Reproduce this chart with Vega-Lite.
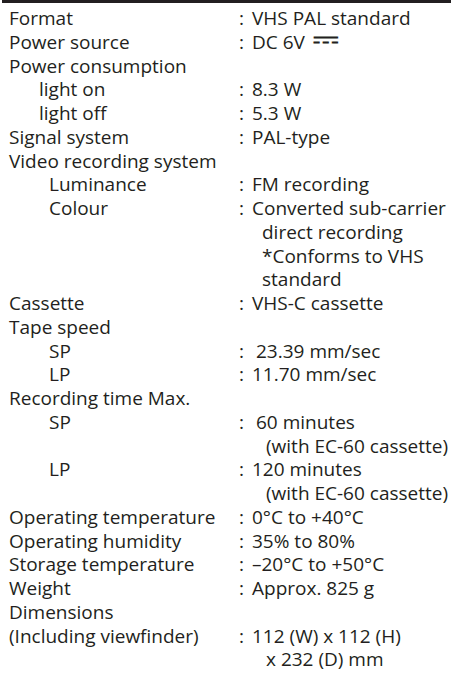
{
  "$schema": "https://vega.github.io/schema/vega-lite/v6.json",
  "width": 453,
  "height": 674,
  "padding": 0,
  "autosize": {"type": "fit", "contains": "padding"},
  "background": "white",
  "config": {"view": {"stroke": null}},
  "data": {"values": [
    {"line": 0, "col": 0, "kind": "t", "text": "Format"}, {"line": 0, "col": 3, "kind": "t", "text": ":"}, {"line": 0, "col": 4, "kind": "t", "text": "VHS PAL standard"},
    {"line": 1, "col": 0, "kind": "t", "text": "Power source"}, {"line": 1, "col": 3, "kind": "t", "text": ":"}, {"line": 1, "col": 4, "kind": "t", "text": "DC 6V"}, {"line": 1, "col": 8, "kind": "sym", "text": "⎓"},
    {"line": 2, "col": 0, "kind": "t", "text": "Power consumption"},
    {"line": 3, "col": 1, "kind": "t", "text": "light on"}, {"line": 3, "col": 3, "kind": "t", "text": ":"}, {"line": 3, "col": 4, "kind": "t", "text": "8.3 W"},
    {"line": 4, "col": 1, "kind": "t", "text": "light off"}, {"line": 4, "col": 3, "kind": "t", "text": ":"}, {"line": 4, "col": 4, "kind": "t", "text": "5.3 W"},
    {"line": 5, "col": 0, "kind": "t", "text": "Signal system"}, {"line": 5, "col": 3, "kind": "t", "text": ":"}, {"line": 5, "col": 4, "kind": "t", "text": "PAL-type"},
    {"line": 6, "col": 0, "kind": "t", "text": "Video recording system"},
    {"line": 7, "col": 2, "kind": "t", "text": "Luminance"}, {"line": 7, "col": 3, "kind": "t", "text": ":"}, {"line": 7, "col": 4, "kind": "t", "text": "FM recording"},
    {"line": 8, "col": 2, "kind": "t", "text": "Colour"}, {"line": 8, "col": 3, "kind": "t", "text": ":"}, {"line": 8, "col": 4, "kind": "t", "text": "Converted sub-carrier"},
    {"line": 9, "col": 6, "kind": "t", "text": "direct recording"},
    {"line": 10, "col": 6, "kind": "t", "text": "*Conforms to VHS"},
    {"line": 11, "col": 6, "kind": "t", "text": "standard"},
    {"line": 12, "col": 0, "kind": "t", "text": "Cassette"}, {"line": 12, "col": 3, "kind": "t", "text": ":"}, {"line": 12, "col": 4, "kind": "t", "text": "VHS-C cassette"},
    {"line": 13, "col": 0, "kind": "t", "text": "Tape speed"},
    {"line": 14, "col": 2, "kind": "t", "text": "SP"}, {"line": 14, "col": 3, "kind": "t", "text": ":"}, {"line": 14, "col": 5, "kind": "t", "text": "23.39 mm/sec"},
    {"line": 15, "col": 2, "kind": "t", "text": "LP"}, {"line": 15, "col": 3, "kind": "t", "text": ":"}, {"line": 15, "col": 4, "kind": "t", "text": "11.70 mm/sec"},
    {"line": 16, "col": 0, "kind": "t", "text": "Recording time Max."},
    {"line": 17, "col": 2, "kind": "t", "text": "SP"}, {"line": 17, "col": 3, "kind": "t", "text": ":"}, {"line": 17, "col": 5, "kind": "t", "text": "60 minutes"},
    {"line": 18, "col": 7, "kind": "t", "text": "(with EC-60 cassette)"},
    {"line": 19, "col": 2, "kind": "t", "text": "LP"}, {"line": 19, "col": 3, "kind": "t", "text": ":"}, {"line": 19, "col": 4, "kind": "t", "text": "120 minutes"},
    {"line": 20, "col": 7, "kind": "t", "text": "(with EC-60 cassette)"},
    {"line": 21, "col": 0, "kind": "t", "text": "Operating temperature"}, {"line": 21, "col": 3, "kind": "t", "text": ":"}, {"line": 21, "col": 4, "kind": "t", "text": "0°C to +40°C"},
    {"line": 22, "col": 0, "kind": "t", "text": "Operating humidity"}, {"line": 22, "col": 3, "kind": "t", "text": ":"}, {"line": 22, "col": 4, "kind": "t", "text": "35% to 80%"},
    {"line": 23, "col": 0, "kind": "t", "text": "Storage temperature"}, {"line": 23, "col": 3, "kind": "t", "text": ":"}, {"line": 23, "col": 4, "kind": "t", "text": "–20°C to +50°C"},
    {"line": 24, "col": 0, "kind": "t", "text": "Weight"}, {"line": 24, "col": 3, "kind": "t", "text": ":"}, {"line": 24, "col": 4, "kind": "t", "text": "Approx. 825 g"},
    {"line": 25, "col": 0, "kind": "t", "text": "Dimensions"},
    {"line": 26, "col": 0, "kind": "t", "text": "(Including viewfinder)"}, {"line": 26, "col": 3, "kind": "t", "text": ":"}, {"line": 26, "col": 4, "kind": "t", "text": "112 (W) x 112 (H)"},
    {"line": 27, "col": 7, "kind": "t", "text": "x 232 (D) mm"}
  ]},
  "encoding": {
    "x": {"field": "col", "type": "quantitative", "scale": {"domain": [0, 1, 2, 3, 4, 5, 6, 7, 8], "range": [7, 37, 47, 237, 250, 254, 260, 264, 311]}, "axis": null},
    "y": {"field": "line", "type": "quantitative", "scale": {"domain": [-1.0526, 27.326], "reverse": true, "zero": false, "nice": false}, "axis": null},
    "text": {"field": "text"}
  },
  "layer": [
    {
      "mark": {"type": "rule", "color": "#231f20", "strokeWidth": 2.5},
      "encoding": {"x": null, "text": null, "y": {"datum": -0.994, "type": "quantitative"}}
    },
    {
      "transform": [{"filter": "datum.kind === 't'"}],
      "mark": {"type": "text", "align": "left", "baseline": "alphabetic", "font": "Open Sans", "fontSize": 19, "color": "#231f20"}
    },
    {
      "transform": [{"filter": "datum.kind === 'sym'"}],
      "mark": {"type": "text", "align": "left", "baseline": "alphabetic", "font": "DejaVu Sans", "fontSize": 32, "fontWeight": "bold", "color": "#231f20"}
    }
  ]
}
